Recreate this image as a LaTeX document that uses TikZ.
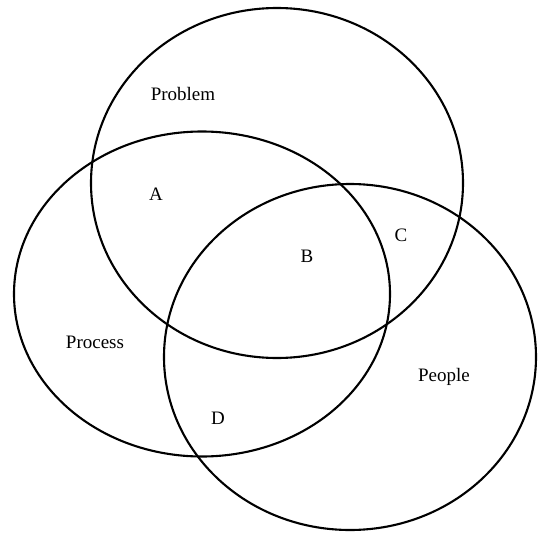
\documentclass[tikz,border=0pt]{standalone}
\usepackage{fontspec}
\setmainfont{Liberation Serif}
\usepackage{tikz}
\usetikzlibrary{positioning,shapes.geometric}

\begin{document}
\begin{tikzpicture}[
x=1pt,
y=-1pt,
venn/.style={
draw,
ellipse,
line width=2.1pt,
inner sep=0pt
},
setlabel/.style={
font=\fontsize{19}{21}\selectfont,
inner sep=1pt
}
]

\useasboundingbox (0,0) rectangle (539,533);

%%%%%%%%%%%%%%%%%%%%%%%%%%%%%%%%%%%%%%%%%%%%%
% Sets
%%%%%%%%%%%%%%%%%%%%%%%%%%%%%%%%%%%%%%%%%%%%%

\node[venn, minimum width=372pt, minimum height=350pt] (problem) at (277,183) {};

\node[venn, minimum width=376pt, minimum height=325pt] (process) at (202,294) {};

\node[venn, minimum width=372pt, minimum height=346pt] (people) at (350,357) {};

%%%%%%%%%%%%%%%%%%%%%%%%%%%%%%%%%%%%%%%%%%%%%
% Labels
%%%%%%%%%%%%%%%%%%%%%%%%%%%%%%%%%%%%%%%%%%%%%

\node[setlabel] (problemlbl) at (183,94) {Problem};

\node[setlabel] (processlbl) at (95,342) {Process};

\node[setlabel] (peoplelbl) at (444,377) {People};

\node[setlabel] (areaA) at (156,194) {A};

\node[setlabel] (areaB) at (307,256) {B};

\node[setlabel] (areaC) at (401,235) {C};

\node[setlabel] (areaD) at (218,418) {D};

\end{tikzpicture}
\end{document}
